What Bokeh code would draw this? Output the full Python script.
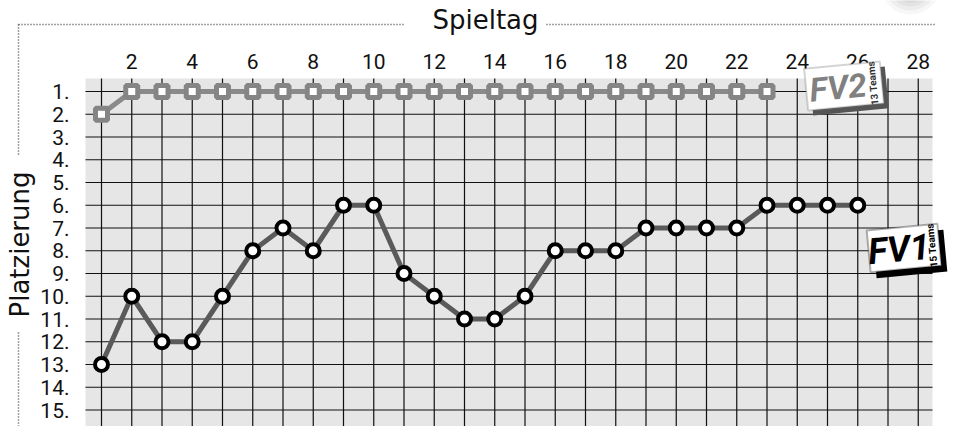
import math
from bokeh.plotting import figure
from bokeh.models import (Range1d, FixedTicker, Label, Arrow, PolyAnnotation,
                          BoxAnnotation, LinearAxis)
from bokeh.embed import file_html
from bokeh.resources import INLINE

# ---------------- data ----------------
fv2_days = [1, 2, 3, 4, 5, 6, 7, 8, 9, 10, 11, 12, 13, 14, 15, 16, 17, 18, 19, 20, 21, 22, 23]
fv2_rank = [2, 1, 1, 1, 1, 1, 1, 1, 1, 1, 1, 1, 1, 1, 1, 1, 1, 1, 1, 1, 1, 1, 1]

fv1_days = [1, 2, 3, 4, 5, 6, 7, 8, 9, 10, 11, 12, 13, 14, 15, 16, 17, 18, 19, 20,
            21, 22, 23, 24, 25, 26]
fv1_rank = [13, 10, 12, 12, 10, 8, 7, 8, 6, 6, 9, 10, 11, 11, 10, 8, 8, 8, 7, 7,
            7, 7, 6, 6, 6, 6]

x_tick_days = [2, 4, 6, 8, 10, 12, 14, 16, 18, 20, 22, 24, 26, 28]
grid_days = [1, 2, 3, 4, 5, 6, 7, 8, 9, 10, 11, 12, 13, 14, 15, 16, 17, 18, 19, 20,
             21, 22, 23, 24, 25, 26, 27, 28]
ranks = [1, 2, 3, 4, 5, 6, 7, 8, 9, 10, 11, 12, 13, 14, 15]
rank_labels = ["1.", "2.", "3.", "4.", "5.", "6.", "7.", "8.", "9.", "10.",
               "11.", "12.", "13.", "14.", "15."]

title_text = "Spieltag"
ylabel_text = "Platzierung"
fv1_name, fv1_teams = "FV1", "15 Teams"
fv2_name, fv2_teams = "FV2", "13 Teams"

# ---------------- geometry (frame = whole canvas) ----------------
W, H = 953, 426
SX, SY = 30.25, 22.75          # px per day / per rank
x_start = 1 - 101 / SX         # day 1 sits at x = 101 px
x_end = x_start + W / SX
y_top = 1 - 91 / SY            # rank 1 sits at y = 91 px
y_bot = y_top + H / SY


def gx(px):
    return x_start + px / SX


def gy(py):
    return y_top + py / SY


AREA_L, AREA_R, AREA_T, AREA_B = gx(85), gx(932), gy(78), y_bot

TICKFONT = "Roboto"
WIDE = "DejaVu Sans"
BADGEFONT = "Roboto"

p = figure(width=W, height=H, output_backend="svg", toolbar_location=None,
           x_range=Range1d(x_start, x_end), y_range=Range1d(y_bot, y_top),
           x_axis_type=None, y_axis_type=None,
           min_border=0, min_border_left=0, min_border_right=0,
           min_border_top=0, min_border_bottom=0)
p.background_fill_color = "white"
p.border_fill_color = "white"
p.outline_line_color = None
p.xgrid.visible = False
p.ygrid.visible = False

# plot area background
p.add_layout(BoxAnnotation(left=AREA_L, right=AREA_R, top=AREA_T, bottom=AREA_B,
                           fill_color="#e6e6e6", fill_alpha=1, line_color=None,
                           level="image"))

# axes drawn at fixed positions at the edge of the plot area
xax = LinearAxis(ticker=FixedTicker(ticks=x_tick_days), fixed_location=AREA_T)
yax = LinearAxis(ticker=FixedTicker(ticks=ranks), fixed_location=AREA_L,
                 major_label_overrides={r: lab for r, lab in zip(ranks, rank_labels)})
for ax in (xax, yax):
    ax.axis_line_color = None
    ax.major_tick_line_color = None
    ax.minor_tick_line_color = None
    ax.major_label_text_font = TICKFONT
    ax.major_label_text_font_size = "21px"
    ax.major_label_text_color = "#111111"
xax.major_label_standoff = 4
yax.major_label_standoff = 10
yax.major_label_text_align = "center"
p.add_layout(xax, "above")
p.add_layout(yax, "left")

# grid lines
p.segment(x0=grid_days, y0=[AREA_T] * len(grid_days), x1=grid_days,
          y1=[AREA_B] * len(grid_days), line_color="#111111", line_width=1.2)
p.segment(x0=[AREA_L] * len(ranks), y0=ranks, x1=[AREA_R] * len(ranks), y1=ranks,
          line_color="#111111", line_width=1.2)

# ---------------- series ----------------
p.line(fv2_days, fv2_rank, line_color="#8a8a8a", line_width=5)
p.scatter(fv2_days, fv2_rank, marker="square", size=12, line_width=5,
          line_color="#858585", fill_color="white")

p.line(fv1_days, fv1_rank, line_color="#5a5a5a", line_width=5)
p.scatter(fv1_days, fv1_rank, marker="circle", size=13, line_width=4,
          line_color="black", fill_color="white")

# ---------------- frame decorations ----------------
DOT = dict(line_color="#444444", line_width=1.5, line_dash="1 2", end=None)
p.add_layout(Arrow(x_start=gx(18), y_start=gy(24), x_end=gx(405), y_end=gy(24), **DOT))
p.add_layout(Arrow(x_start=gx(546), y_start=gy(24), x_end=gx(935), y_end=gy(24), **DOT))
p.add_layout(Arrow(x_start=gx(18), y_start=gy(24), x_end=gx(18), y_end=gy(156), **DOT))
p.add_layout(Arrow(x_start=gx(18), y_start=gy(332), x_end=gx(18), y_end=gy(426), **DOT))

p.add_layout(Label(x=gx(485), y=gy(19), text=title_text, text_font=WIDE,
                   text_font_size="26px", text_color="#111111",
                   text_align="center", text_baseline="alphabetic"))
p.add_layout(Label(x=gx(19), y=gy(244), text=ylabel_text, text_font=WIDE,
                   text_font_size="26px", text_color="#111111", angle=math.pi / 2,
                   text_align="center", text_baseline="alphabetic"))

# soft grey blob top right
for r, a in [(30, 0.06), (26, 0.07), (22, 0.08), (18, 0.09), (14, 0.10)]:
    n = 32
    xs = [gx(910 + r * math.cos(2 * math.pi * k / n)) for k in range(n)]
    ys = [gy(-16 + r * math.sin(2 * math.pi * k / n)) for k in range(n)]
    p.add_layout(PolyAnnotation(xs=xs, ys=ys, xs_units="data", ys_units="data",
                                fill_color="#707070", fill_alpha=a, line_color=None))


# ---------------- badges ----------------
def rect_poly(cx, cy, w, h, ang):
    c, s = math.cos(ang), math.sin(ang)
    pts = [(-w / 2, -h / 2), (w / 2, -h / 2), (w / 2, h / 2), (-w / 2, h / 2)]
    xs, ys = [], []
    for lx, ly in pts:
        xs.append(gx(cx + lx * c + ly * s))
        ys.append(gy(cy - lx * s + ly * c))
    return xs, ys


def badge(cx, cy, w, h, ang, border, shadow, shadow_off, name, teams, name_color,
          teams_color, name_size, name_dx, teams_dx):
    c, s = math.cos(ang), math.sin(ang)
    xs, ys = rect_poly(cx + shadow_off, cy + shadow_off, w, h, ang)
    p.add_layout(PolyAnnotation(xs=xs, ys=ys, xs_units="data", ys_units="data",
                                fill_color=shadow, fill_alpha=1, line_color=None))
    xs, ys = rect_poly(cx, cy, w, h, ang)
    p.add_layout(PolyAnnotation(xs=xs, ys=ys, xs_units="data", ys_units="data",
                                fill_color="white", fill_alpha=1, line_color=border,
                                line_width=2))
    nx, ny = cx + name_dx * c, cy - name_dx * s
    p.add_layout(Label(x=gx(nx), y=gy(ny + 1), text=name, text_font=BADGEFONT,
                       text_font_style="bold italic", text_font_size=name_size,
                       text_color=name_color, angle=ang, text_align="center",
                       text_baseline="middle"))
    tx, ty = cx + teams_dx * c, cy - teams_dx * s
    p.add_layout(Label(x=gx(tx), y=gy(ty), text=teams, text_font=BADGEFONT,
                       text_font_style="bold", text_font_size="10px",
                       text_color=teams_color,
                       angle=ang + math.pi / 2, angle_units="rad",
                       text_align="center", text_baseline="middle"))


badge(843.5, 85.5, 76, 42, math.radians(5.6), "#707070", "#555555", 5,
      fv2_name, fv2_teams, "#808080", "#333333", "33px", -6, 29)
badge(903.5, 247.5, 71, 42, math.radians(5.4), "black", "black", 6,
      fv1_name, fv1_teams, "black", "black", "36px", -5, 28)

open("out.html", "w").write(file_html(p, INLINE))
